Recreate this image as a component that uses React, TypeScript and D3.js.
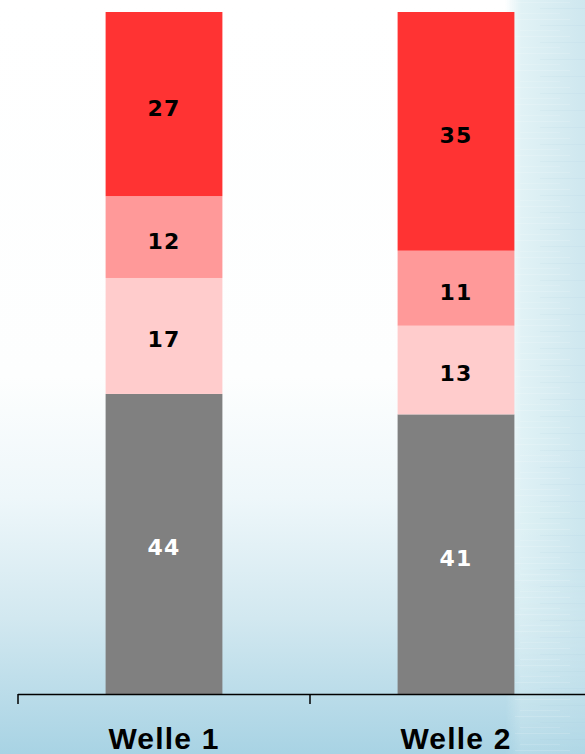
import React, { useEffect, useRef } from "react";
import * as d3 from "d3";

const categories = ["Welle 1", "Welle 2"];
const seriesNames = ["s1", "s2", "s3", "s4"]; // bottom to top
const seriesColors = ["#808080", "#FFCCCC", "#FF9999", "#FF3333"];
const labelColors = ["#ffffff", "#000000", "#000000", "#000000"];
const welle1 = [44, 17, 12, 27];
const welle2 = [41, 13, 11, 35];
const values = [welle1, welle2];

const W = 585;
const H = 754;

export default function App() {
  const ref = useRef<SVGSVGElement>(null);
  useEffect(() => {
    document.body.style.margin = "0";
    const svg = d3.select(ref.current);
    svg.selectAll("*").remove();

    const defs = svg.append("defs");
    const vg = defs.append("linearGradient").attr("id", "bgv").attr("x1", 0).attr("y1", 0).attr("x2", 0).attr("y2", 1);
    vg.append("stop").attr("offset", "0").attr("stop-color", "#ffffff");
    vg.append("stop").attr("offset", "0.5").attr("stop-color", "#fdfefe");
    vg.append("stop").attr("offset", "0.66").attr("stop-color", "#eef7fa");
    vg.append("stop").attr("offset", "0.82").attr("stop-color", "#d2e8f0");
    vg.append("stop").attr("offset", "1").attr("stop-color", "#a8d3e4");
    const hg = defs.append("linearGradient").attr("id", "bgh").attr("x1", 0).attr("y1", 0).attr("x2", 1).attr("y2", 0);
    hg.append("stop").attr("offset", "0").attr("stop-color", "#dcf0f4").attr("stop-opacity", 0);
    hg.append("stop").attr("offset", "0.2").attr("stop-color", "#dcf0f4").attr("stop-opacity", 0.85);
    hg.append("stop").attr("offset", "1").attr("stop-color", "#c6e3ec").attr("stop-opacity", 0.85);
    const fade = defs.append("linearGradient").attr("id", "fadeV").attr("x1", 0).attr("y1", 0).attr("x2", 0).attr("y2", 1);
    fade.append("stop").attr("offset", "0").attr("stop-color", "#fff").attr("stop-opacity", 1);
    fade.append("stop").attr("offset", "0.75").attr("stop-color", "#fff").attr("stop-opacity", 1);
    fade.append("stop").attr("offset", "1").attr("stop-color", "#fff").attr("stop-opacity", 0.3);
    const mask = defs.append("mask").attr("id", "rmask");
    mask.append("rect").attr("x", 0).attr("width", W).attr("height", H).attr("fill", "url(#fadeV)");

    const pat = defs.append("pattern").attr("id", "streaks").attr("patternUnits", "userSpaceOnUse").attr("width", 85).attr("height", 17);
    pat.append("rect").attr("x", 0).attr("y", 2).attr("width", 60).attr("height", 1).attr("fill", "#ffffff").attr("opacity", 0.15);
    pat.append("rect").attr("x", 30).attr("y", 8).attr("width", 55).attr("height", 1).attr("fill", "#9fcbd8").attr("opacity", 0.1);
    pat.append("rect").attr("x", 10).attr("y", 13).attr("width", 40).attr("height", 1).attr("fill", "#ffffff").attr("opacity", 0.12);

    svg.append("rect").attr("width", W).attr("height", H).attr("fill", "url(#bgv)");
    svg.append("rect").attr("x", 505).attr("width", W - 505).attr("height", H).attr("fill", "url(#bgh)").attr("mask", "url(#rmask)");
    svg.append("rect").attr("x", 515).attr("width", W - 515).attr("height", H).attr("fill", "url(#streaks)");

    const x = d3.scaleBand<string>().domain(categories).range([18, 602]).paddingInner(0.6).paddingOuter(0.3);
    const y = d3.scaleLinear().domain([0, 100]).range([694, 12]);

    const g = svg.append("g");
    categories.forEach((c, ci) => {
      let acc = 0;
      values[ci].forEach((v, si) => {
        const y0 = acc;
        const y1 = acc + v;
        acc = y1;
        g.append("rect")
          .attr("x", x(c)!)
          .attr("width", x.bandwidth())
          .attr("y", y(y1))
          .attr("height", y(y0) - y(y1))
          .attr("fill", seriesColors[si])
          .attr("data-series", seriesNames[si]);
        g.append("text")
          .attr("x", x(c)! + x.bandwidth() / 2)
          .attr("y", (y(y0) + y(y1)) / 2)
          .attr("dy", "0.52em")
          .attr("text-anchor", "middle")
          .attr("font-family", "DejaVu Sans")
          .attr("font-weight", "bold")
          .attr("font-size", 22)
          .attr("letter-spacing", 1.2)
          .attr("fill", labelColors[si])
          .text(String(v));
      });
    });

    // axis
    const step = x.step();
    const axis = svg.append("g");
    axis.append("line").attr("x1", 18).attr("x2", W).attr("y1", 694.5).attr("y2", 694.5).attr("stroke", "#000").attr("stroke-width", 1.5);
    const tickXs = categories.map((c) => x(c)! + x.bandwidth() / 2 - step / 2);
    tickXs.forEach((tx) => {
      axis.append("line").attr("x1", tx).attr("x2", tx).attr("y1", 694).attr("y2", 704).attr("stroke", "#000").attr("stroke-width", 1.5);
    });
    categories.forEach((c) => {
      axis.append("text")
        .attr("x", x(c)! + x.bandwidth() / 2)
        .attr("y", 749)
        .attr("text-anchor", "middle")
        .attr("font-family", "Liberation Sans")
        .attr("font-weight", "bold")
        .attr("font-size", 30)
        .attr("letter-spacing", 1.2)
        .attr("fill", "#000")
        .text(c);
    });
  }, []);
  return <svg ref={ref} width={W} height={H} style={{ display: "block", position: "absolute", left: 0, top: 0 }} />;
}
